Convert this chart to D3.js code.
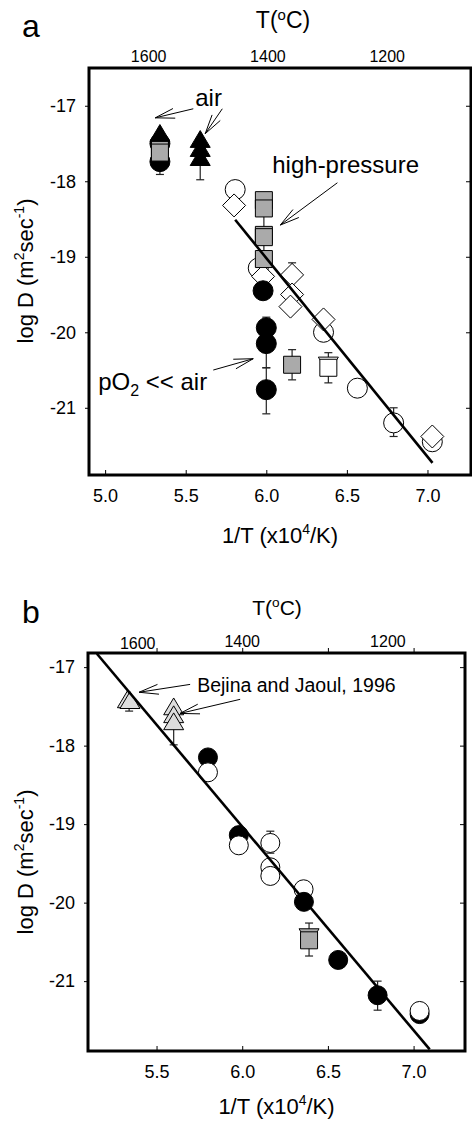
<!DOCTYPE html>
<html>
<head>
<meta charset="utf-8">
<script src="https://cdn.jsdelivr.net/npm/d3@7"></script>
<style>
  body { margin: 0; background: #fff; }
  svg { display: block; }
  text { font-family: "Liberation Sans", Arial, sans-serif; fill: #000; }
</style>
</head>
<body>
<div id="chart"></div>
<script>
// ---------- shared ticks ----------
const yTicks = [-17, -18, -19, -20, -21];
const aXTicks = [5.0, 5.5, 6.0, 6.5, 7.0];
const bXTicks = [5.5, 6.0, 6.5, 7.0];
const tempLabels = [1600, 1400, 1200];
const aTempPos = [5.27, 6.01, 6.75];   // where the T labels sit, in 1/T units
const bTempPos = [5.39, 6.0, 6.85];

// ---------- panel a data: [1/T, log D] ----------
const aOpenCircles = [[5.807, -18.11], [5.95, -19.15], [6.355, -20.0], [6.565, -20.74], [6.79, -21.2], [7.03, -21.45]];
const aDiamonds = [[5.80, -18.32], [5.98, -19.26], [6.16, -19.24], [6.16, -19.50], [6.15, -19.66], [6.355, -19.83], [7.03, -21.38]];
const aBlackCircles = [[5.34, -17.5], [5.34, -17.74], [5.98, -19.45], [6.0, -19.94], [6.0, -20.15], [6.0, -20.76]];
const aGraySquares = [[5.34, -17.58], [5.34, -17.62], [5.985, -18.25], [5.985, -18.36], [5.985, -18.71], [5.985, -18.74], [5.985, -19.03], [6.16, -20.43]];
const aOpenDownTri = [[6.385, -20.44]];
const aOpenSquares = [[6.385, -20.47]];
const aBlackTriangles = [[5.34, -17.36], [5.59, -17.44], [5.59, -17.56], [5.59, -17.68]];
// [x, low, high]
const aErrorBars = [[5.34, -17.91, -17.6], [5.59, -17.98, -17.6], [5.985, -19.1, -18.15], [6.0, -20.47, -19.8],
  [6.0, -21.08, -20.47], [6.16, -19.24, -19.08], [6.16, -20.63, -20.23], [6.385, -20.67, -20.27], [6.79, -21.38, -21.0]];
const aFitX = [5.807, 7.031];
const aFitY = [-18.51, -21.73];
// [x1, y1, tipX, tipY]
const aArrows = [[5.547, -17.04, 5.311, -17.16], [5.727, -17.04, 5.621, -17.37],
  [6.441, -18.02, 6.087, -18.58], [5.671, -20.50, 5.919, -20.35]];

// ---------- panel b data ----------
const bGrayTriangles = [[5.33, -17.41], [5.345, -17.42], [5.6, -17.5], [5.6, -17.6], [5.6, -17.69]];
const bBlackBack = [[5.80, -18.15], [5.98, -19.14], [7.035, -21.42]];
const bOpenCircles = [[5.80, -18.34], [5.98, -19.27], [6.164, -19.24], [6.164, -19.55], [6.164, -19.66], [6.358, -19.83], [7.035, -21.38]];
const bBlackFront = [[6.36, -19.99], [6.56, -20.73], [6.79, -21.18]];
const bGrayDownTri = [[6.39, -20.44]];
const bGraySquares = [[6.39, -20.48]];
const bErrorBars = [[5.34, -17.56, -17.4], [5.6, -17.99, -17.5], [6.164, -19.37, -19.09], [6.39, -20.68, -20.26], [6.79, -21.37, -21.0]];
const bFitX = [5.152, 7.094];
const bFitY = [-16.83, -21.87];
const bArrows = [[5.696, -17.22, 5.398, -17.32], [5.988, -17.41, 5.637, -17.59]];

const svg = d3.select("#chart").append("svg")
  .attr("width", 472)
  .attr("height", 1122);

// symbol paths, centred on their bounding box
const shapes = {
  circle: r => d3.symbol(d3.symbolCircle, Math.PI * r * r)(),
  diamond: h => `M0,${-h}L${h},0L0,${h}L${-h},0Z`,
  square: s => `M${-s / 2},${-s / 2}h${s}v${s}h${-s}Z`,
  triUp: w => `M0,${-w * 0.42}L${w / 2},${w * 0.42}L${-w / 2},${w * 0.42}Z`,
  triDown: w => `M0,${w * 0.42}L${w / 2},${-w * 0.42}L${-w / 2},${-w * 0.42}Z`
};

function drawPanel(p) {
  const x = d3.scaleLinear().domain(p.xDomain).range([p.left, p.right]);
  const y = d3.scaleLinear().domain(p.yDomain).range([p.bottom, p.top]);
  const g = svg.append("g");

  // axes
  const left = g.append("g").attr("transform", `translate(${p.left},0)`)
    .call(d3.axisLeft(y).tickValues(yTicks).tickSize(4).tickPadding(9).tickFormat(d => String(d)));
  const bottom = g.append("g").attr("transform", `translate(0,${p.bottom})`)
    .call(d3.axisBottom(x).tickValues(p.xTicks).tickSize(-5).tickPadding(p.xPad).tickFormat(d3.format(".1f")));
  g.append("g").attr("transform", `translate(${p.right},0)`)
    .call(d3.axisRight(y).tickValues(yTicks).tickSize(-5).tickFormat(""));
  if (p.topTicks) {
    g.append("g").attr("transform", `translate(0,${p.top})`)
      .call(d3.axisTop(x).tickValues(p.xTicks).tickSize(5).tickFormat(""));
  }
  g.selectAll(".domain").remove();
  g.selectAll(".tick line").attr("stroke", "#000").attr("stroke-width", 1);
  left.selectAll("text").attr("font-size", 18);
  bottom.selectAll("text").attr("font-size", 18);

  // temperature labels on top
  g.selectAll(".tlab").data(tempLabels).join("text")
    .attr("x", (d, i) => x(p.tempPos[i]))
    .attr("y", (d, i) => p.top - p.tempDy[i])
    .attr("text-anchor", "middle")
    .attr("font-size", 16)
    .text(d => d);

  // frame
  g.append("rect")
    .attr("x", p.left).attr("y", p.top)
    .attr("width", p.right - p.left).attr("height", p.bottom - p.top)
    .attr("fill", "none").attr("stroke", "#000").attr("stroke-width", 3);

  // error bars
  const eb = g.append("g").attr("stroke", "#222").attr("stroke-width", 1.2);
  p.errors.forEach(([ex, lo, hi]) => {
    eb.append("line").attr("x1", x(ex)).attr("x2", x(ex)).attr("y1", y(lo)).attr("y2", y(hi));
    [lo, hi].forEach(v => eb.append("line")
      .attr("x1", x(ex) - 4).attr("x2", x(ex) + 4).attr("y1", y(v)).attr("y2", y(v)));
  });

  // markers, in drawing order
  p.layers.forEach(layer => {
    g.append("g").selectAll("path").data(layer.data).join("path")
      .attr("d", shapes[layer.shape](layer.size))
      .attr("transform", d => `translate(${x(d[0])},${y(d[1])})`)
      .attr("fill", layer.fill)
      .attr("stroke", "#000")
      .attr("stroke-width", 1);
  });

  // regression line
  g.append("line")
    .attr("x1", x(p.fitX[0])).attr("y1", y(p.fitY[0]))
    .attr("x2", x(p.fitX[1])).attr("y2", y(p.fitY[1]))
    .attr("stroke", "#000").attr("stroke-width", 2.6);

  // annotation arrows (open heads)
  p.arrows.forEach(([x1, y1, x2, y2]) => {
    const ax = x(x1), ay = y(y1), tx = x(x2), ty = y(y2);
    const ang = Math.atan2(ay - ty, ax - tx);
    const len = 20, spread = 0.25;
    const path = d3.path();
    path.moveTo(ax, ay); path.lineTo(tx, ty);
    path.moveTo(tx + len * Math.cos(ang + spread), ty + len * Math.sin(ang + spread));
    path.lineTo(tx, ty);
    path.lineTo(tx + len * Math.cos(ang - spread), ty + len * Math.sin(ang - spread));
    g.append("path").attr("d", path.toString()).attr("fill", "none")
      .attr("stroke", "#000").attr("stroke-width", 1);
  });

  // titles
  g.append("text").attr("x", 22).attr("y", p.letterY).attr("font-size", 32).text(p.letter);

  const tt = g.append("text").attr("x", p.tTitleX).attr("y", p.tTitleY)
    .attr("text-anchor", "middle").attr("font-size", p.tTitleSize);
  tt.append("tspan").text("T(");
  tt.append("tspan").attr("font-size", p.tTitleSize * 0.65).attr("dy", -8).text("o");
  tt.append("tspan").attr("dy", 8).text("C)");

  const xt = g.append("text").attr("x", (p.left + p.right) / 2).attr("y", p.bottom + p.xTitleDy)
    .attr("text-anchor", "middle").attr("font-size", 22);
  xt.append("tspan").text("1/T (x10");
  xt.append("tspan").attr("font-size", 14).attr("dy", -9).text("4");
  xt.append("tspan").attr("dy", 9).text("/K)");

  const yt = g.append("text")
    .attr("transform", `translate(33,${p.yTitleY}) rotate(-90)`)
    .attr("text-anchor", "middle").attr("font-size", 22);
  yt.append("tspan").text("log D (m");
  yt.append("tspan").attr("font-size", 14).attr("dy", -9).text("2");
  yt.append("tspan").attr("dy", 9).text("sec");
  yt.append("tspan").attr("font-size", 14).attr("dy", -9).text("-1");
  yt.append("tspan").attr("dy", 9).text(")");

  return { g, x, y };
}

// ---------- panel a ----------
const pa = drawPanel({
  left: 89, right: 471, top: 68, bottom: 475,
  xDomain: [4.9, 7.27], yDomain: [-21.89, -16.5],
  xTicks: aXTicks, xPad: 14, topTicks: false,
  tempPos: aTempPos, tempDy: [6, 6, 6],
  errors: aErrorBars,
  layers: [
    { data: aOpenCircles, shape: "circle", size: 10, fill: "#fff" },
    { data: aDiamonds, shape: "diamond", size: 11.5, fill: "#fff" },
    { data: aBlackCircles, shape: "circle", size: 10, fill: "#000" },
    { data: aOpenDownTri, shape: "triDown", size: 20, fill: "#fff" },
    { data: aOpenSquares, shape: "square", size: 17, fill: "#fff" },
    { data: aGraySquares, shape: "square", size: 17, fill: "#aaa" },
    { data: aBlackTriangles, shape: "triUp", size: 20, fill: "#000" }
  ],
  fitX: aFitX, fitY: aFitY, arrows: aArrows,
  letter: "a", letterY: 37,
  tTitleX: 283, tTitleY: 28, tTitleSize: 23,
  xTitleDy: 68, yTitleY: 271
});

pa.g.append("text").attr("x", pa.x(5.559)).attr("y", pa.y(-17.0)).attr("font-size", 24).text("air");
pa.g.append("text").attr("x", pa.x(6.037)).attr("y", pa.y(-17.89)).attr("font-size", 24).text("high-pressure");
const po = pa.g.append("text").attr("x", pa.x(4.957)).attr("y", pa.y(-20.77)).attr("font-size", 24);
po.append("tspan").text("pO");
po.append("tspan").attr("font-size", 16).attr("dy", 6).text("2");
po.append("tspan").attr("dy", -6).text(" << air");

// ---------- panel b ----------
const pb = drawPanel({
  left: 88, right: 465, top: 653, bottom: 1051,
  xDomain: [5.10, 7.30], yDomain: [-21.89, -16.82],
  xTicks: bXTicks, xPad: 14, topTicks: true,
  tempPos: bTempPos, tempDy: [4, 6, 6],
  errors: bErrorBars,
  layers: [
    { data: bGrayTriangles, shape: "triUp", size: 20, fill: "#ddd" },
    { data: bBlackBack, shape: "circle", size: 9.5, fill: "#000" },
    { data: bOpenCircles, shape: "circle", size: 9.5, fill: "#fff" },
    { data: bBlackFront, shape: "circle", size: 9.5, fill: "#000" },
    { data: bGrayDownTri, shape: "triDown", size: 20, fill: "#aaa" },
    { data: bGraySquares, shape: "square", size: 17, fill: "#aaa" }
  ],
  fitX: bFitX, fitY: bFitY, arrows: bArrows,
  letter: "b", letterY: 623,
  tTitleX: 277, tTitleY: 615, tTitleSize: 21,
  xTitleDy: 63, yTitleY: 862
});

pb.g.append("text").attr("x", pb.x(5.737)).attr("y", pb.y(-17.32)).attr("font-size", 19.5).text("Bejina and Jaoul, 1996");
</script>
</body>
</html>
